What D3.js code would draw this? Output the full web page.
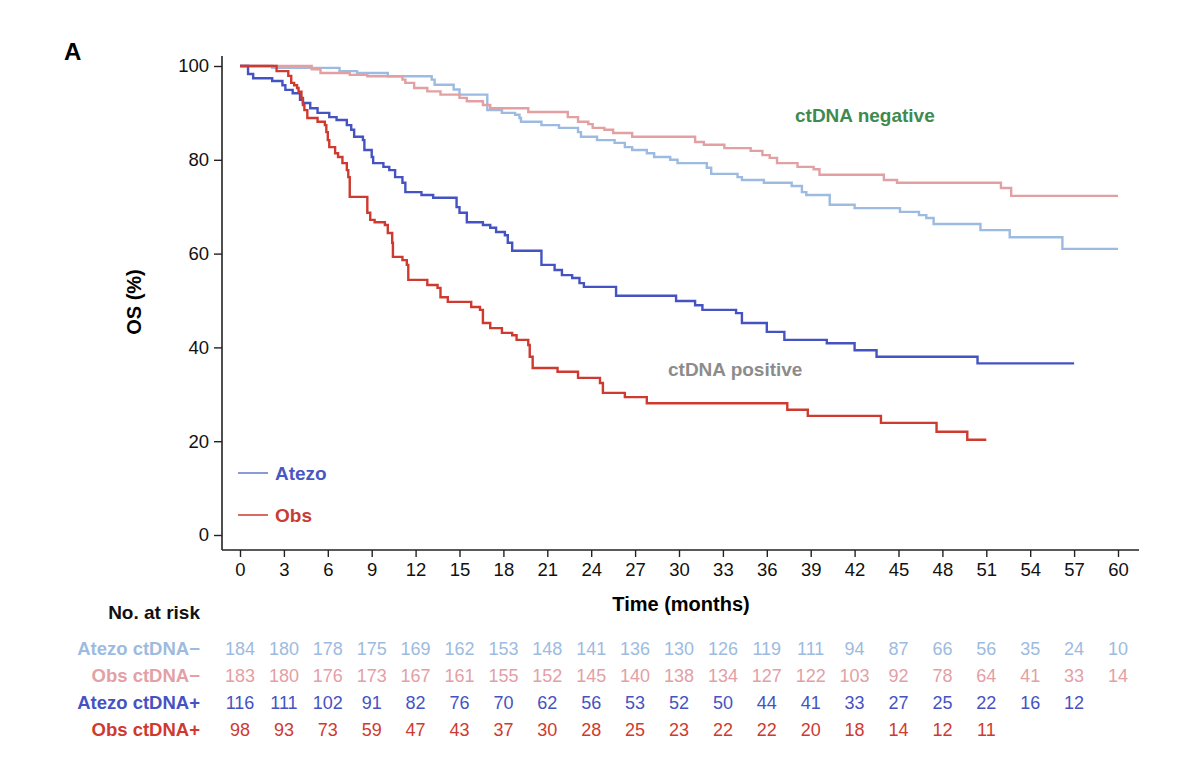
<!DOCTYPE html>
<html>
<head>
<meta charset="utf-8">
<script src="https://cdn.jsdelivr.net/npm/d3@7"></script>
<style>
  html, body { margin: 0; padding: 0; background: #fff; }
  svg { display: block; font-family: "Liberation Sans", Arial, sans-serif; }
</style>
</head>
<body>
<svg id="chart" width="1200" height="776"></svg>
<script>
'use strict';

// data: [month, OS %] at each step
const atezoNeg = [[0,100],[2.2,99.6],[6.8,98.9],[8.0,98.5],[10.1,97.8],[13.1,97.1],[13.3,96.0],[14.6,95.0],[15.0,93.9],
  [16.9,90.6],[17.9,90.0],[18.8,89.6],[19.1,88.9],[19.2,88.1],[20.6,87.4],[21.8,86.8],[23.1,85.9],[23.3,84.9],
  [24.4,84.2],[25.6,83.6],[26.3,82.7],[26.8,82.1],[27.8,81.4],[28.3,80.6],[29.4,80.0],[29.9,79.3],[31.9,78.3],
  [32.2,77.0],[34.0,76.3],[34.3,75.7],[35.8,75.1],[37.7,74.4],[38.4,73.1],[38.7,72.5],[40.3,70.4],[42.0,69.7],
  [45.1,68.9],[46.4,68.2],[46.9,67.6],[47.4,66.3],[50.6,65.0],[52.6,63.5],[56.2,61.0],[60,61.0]];

const obsNeg = [[0,100],[4.9,99.3],[5.5,98.5],[7.5,98.1],[8.7,97.8],[11.1,97.1],[11.3,96.4],[11.9,95.3],[12.8,94.6],
  [13.7,93.9],[15.0,93.2],[15.5,92.5],[16.6,91.7],[17.1,91.0],[19.7,90.2],[22.4,89.1],[23.1,88.1],[23.8,87.6],
  [24.1,86.8],[24.9,86.4],[25.5,85.7],[26.8,84.9],[31.1,83.8],[31.7,83.2],[33.1,82.5],[34.9,81.9],[35.7,81.0],
  [36.2,80.4],[36.7,79.3],[38.1,78.5],[39.2,78.0],[39.6,76.8],[44.0,75.7],[44.9,75.1],[52.0,74.0],[52.7,72.3],
  [60,72.3]];

const atezoPos = [[0,100],[0.55,98.3],[0.9,97.4],[2.2,96.8],[2.9,95.9],[3.1,94.9],[3.6,94.2],[4.1,92.8],[4.3,92.1],
  [4.8,91.0],[5.3,90.0],[6.1,89.1],[6.6,88.5],[7.3,87.4],[7.6,86.4],[7.8,84.9],[8.4,84.2],[8.5,82.1],[9.0,80.6],
  [9.1,79.3],[9.8,78.5],[10.2,77.8],[10.6,76.3],[11.1,75.1],[11.3,73.1],[12.4,72.5],[13.2,71.9],[14.8,69.9],
  [15.0,68.7],[15.5,66.7],[16.6,66.1],[17.1,65.5],[17.5,64.6],[18.1,63.9],[18.3,62.3],[18.6,60.6],[20.6,57.6],
  [21.5,56.5],[22.0,55.4],[22.7,54.8],[23.2,53.7],[23.5,52.9],[25.7,51.0],[29.8,49.9],[31.1,49.0],[31.6,48.0],
  [33.9,47.3],[34.3,45.2],[36.0,43.3],[37.2,41.6],[40.1,40.9],[42.0,39.4],[43.5,38.0],[50.4,36.6],[57.0,36.6]];

const obsPos = [[0,100],[2.5,98.9],[3.3,97.9],[3.5,96.4],[3.7,95.9],[3.9,95.3],[4.0,94.5],[4.2,93.2],[4.3,91.7],
  [4.4,90.6],[4.6,88.9],[5.3,88.1],[5.8,87.4],[5.9,85.9],[6.0,84.2],[6.1,82.7],[6.5,81.4],[6.7,80.6],[7.0,79.3],
  [7.3,77.8],[7.4,76.3],[7.5,72.1],[8.7,68.7],[8.9,67.2],[9.2,66.7],[9.9,66.1],[10.1,64.4],[10.4,62.3],[10.45,59.3],
  [11.1,58.6],[11.4,57.6],[11.5,54.4],[12.8,53.3],[13.5,52.7],[13.7,50.7],[14.2,49.7],[15.8,48.6],[16.4,48.0],
  [16.6,45.2],[17.1,44.1],[17.9,43.1],[18.6,42.6],[18.9,41.6],[19.7,40.5],[19.8,38.0],[20.0,35.6],[21.7,34.8],
  [23.1,33.5],[24.6,32.4],[24.8,30.3],[26.3,29.4],[27.8,28.1],[37.4,26.7],[38.8,25.4],[43.8,23.9],[47.6,22.0],
  [49.7,20.3],[51.0,20.3]];

const xTicks = d3.range(0, 61, 3);
const yTicks = [0, 20, 40, 60, 80, 100];

const riskLabels = ["Atezo ctDNA\u2212", "Obs ctDNA\u2212", "Atezo ctDNA+", "Obs ctDNA+"];
const riskAtezoNeg = [184,180,178,175,169,162,153,148,141,136,130,126,119,111,94,87,66,56,35,24,10];
const riskObsNeg = [183,180,176,173,167,161,155,152,145,140,138,134,127,122,103,92,78,64,41,33,14];
const riskAtezoPos = [116,111,102,91,82,76,70,62,56,53,52,50,44,41,33,27,25,22,16,12];
const riskObsPos = [98,93,73,59,47,43,37,30,28,25,23,22,22,20,18,14,12,11];

const colors = {
  atezoNeg: "#9dbbe0",
  obsNeg: "#e3a0a2",
  atezoPos: "#4553c2",
  obsPos: "#cf3a30"
};

// layout
const svg = d3.select("#chart");
const x = d3.scaleLinear().domain([0, 60]).range([240, 1118]);
const y = d3.scaleLinear().domain([0, 100]).range([535, 66]);
const axisY = 550, axisX = 222;

// panel letter
svg.append("text").attr("x", 64).attr("y", 60)
  .attr("font-size", 24).attr("font-weight", "bold").text("A");

// axes lines
svg.append("line").attr("x1", axisX).attr("x2", axisX).attr("y1", 56).attr("y2", axisY)
  .attr("stroke", "#222").attr("stroke-width", 1.6);
svg.append("line").attr("x1", axisX).attr("x2", 1139).attr("y1", axisY).attr("y2", axisY)
  .attr("stroke", "#222").attr("stroke-width", 1.6);

const gy = svg.append("g").attr("transform", `translate(${axisX},0)`)
  .call(d3.axisLeft(y).tickValues(yTicks).tickSize(8).tickPadding(5));
gy.select(".domain").remove();
gy.selectAll(".tick line").attr("stroke", "#222").attr("stroke-width", 1.4);
gy.selectAll(".tick text").attr("font-size", 18.5).attr("fill", "#111")
  .attr("font-family", "Liberation Sans, Arial, sans-serif");

const gx = svg.append("g").attr("transform", `translate(0,${axisY})`)
  .call(d3.axisBottom(x).tickValues(xTicks).tickSize(7).tickPadding(6));
gx.select(".domain").remove();
gx.selectAll(".tick line").attr("stroke", "#222").attr("stroke-width", 1.4);
gx.selectAll(".tick text").attr("font-size", 18.5).attr("fill", "#111")
  .attr("font-family", "Liberation Sans, Arial, sans-serif");

// axis titles
svg.append("text").attr("x", 681).attr("y", 611).attr("text-anchor", "middle")
  .attr("font-size", 20).attr("font-weight", "bold").text("Time (months)");
svg.append("text").attr("transform", "translate(141,302) rotate(-90)").attr("text-anchor", "middle")
  .attr("font-size", 20).attr("font-weight", "bold").text("OS (%)");

// curves
const line = d3.line().x(d => x(d[0])).y(d => y(d[1])).curve(d3.curveStepAfter);
const series = [
  [atezoNeg, colors.atezoNeg],
  [obsNeg, colors.obsNeg],
  [atezoPos, colors.atezoPos],
  [obsPos, colors.obsPos]
];
svg.append("g").selectAll("path").data(series).join("path")
  .attr("d", d => line(d[0]))
  .attr("fill", "none")
  .attr("stroke", d => d[1])
  .attr("stroke-width", 2.4)
  .attr("stroke-linejoin", "miter");

// annotations
svg.append("text").attr("x", 795).attr("y", 122).attr("font-size", 19).attr("font-weight", "bold")
  .attr("fill", "#3f8a4f").text("ctDNA negative");
svg.append("text").attr("x", 668).attr("y", 376).attr("font-size", 19).attr("font-weight", "bold")
  .attr("fill", "#8c8c8c").text("ctDNA positive");

// legend
const legend = [["Atezo", "#4a56c2", "#6f7fd0", 473], ["Obs", "#c83c34", "#d0463c", 515]];
legend.forEach(([name, tc, lc, ly]) => {
  svg.append("line").attr("x1", 238).attr("x2", 268).attr("y1", ly).attr("y2", ly)
    .attr("stroke", lc).attr("stroke-width", 1.6);
  svg.append("text").attr("x", 275).attr("y", ly + 7).attr("font-size", 19).attr("font-weight", "bold")
    .attr("fill", tc).text(name);
});

// number at risk table
svg.append("text").attr("x", 200).attr("y", 619).attr("text-anchor", "end")
  .attr("font-size", 19).attr("font-weight", "bold").attr("fill", "#111").text("No. at risk");

const riskRows = [riskAtezoNeg, riskObsNeg, riskAtezoPos, riskObsPos];
const riskColors = ["#9dbbe0", "#e3a0a5", "#4553c2", "#cf3a30"];
const rowY = d3.scalePoint().domain(d3.range(4)).range([655, 736]);
riskRows.forEach((row, i) => {
  svg.append("text").attr("x", 200).attr("y", rowY(i)).attr("text-anchor", "end")
    .attr("font-size", 18.5).attr("font-weight", "bold").attr("fill", riskColors[i]).text(riskLabels[i]);
  svg.append("g").selectAll("text").data(row).join("text")
    .attr("x", (d, j) => x(xTicks[j]))
    .attr("y", rowY(i))
    .attr("text-anchor", "middle")
    .attr("font-size", 18)
    .attr("fill", riskColors[i])
    .text(d => d);
});
</script>
</body>
</html>
